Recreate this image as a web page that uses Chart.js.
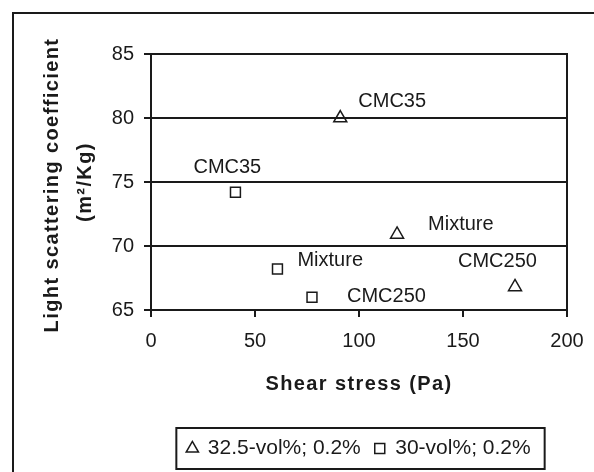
<!DOCTYPE html>
<html lang="en">
<head>
  <meta charset="UTF-8">
  <title>Light scattering coefficient vs shear stress</title>
  <script src="https://cdn.jsdelivr.net/npm/chart.js"></script>
  <style>
    html, body { margin: 0; padding: 0; background: #fff; }
    #wrap { width: 594px; height: 472px; }
  </style>
</head>
<body>
  <div id="wrap"><canvas id="chart" width="594" height="472"></canvas></div>

  <script>
    // data
    const seriesNames = ["32.5-vol%; 0.2%", "30-vol%; 0.2%"];
    const stress325 = [91, 118.3, 175];
    const scatter325 = [80, 70.9, 66.8];
    const labels325 = ["CMC35", "Mixture", "CMC250"];
    const stress30 = [40.6, 60.8, 77.4];
    const scatter30 = [74.2, 68.2, 66.0];
    const labels30 = ["CMC35", "Mixture", "CMC250"];
    const xTicks = [0, 50, 100, 150, 200];
    const yTicks = [65, 70, 75, 80, 85];
    const xTitle = "Shear stress (Pa)";
    const yTitle = ["Light scattering coefficient", "(m²/Kg)"];

    const ink = "#1a1a1a";
    const font = "'Liberation Sans', Arial, sans-serif";
    Chart.defaults.font.family = font;
    Chart.defaults.color = ink;

    function points(xs, ys) {
      return xs.map((x, i) => ({ x: x, y: ys[i] }));
    }

    // pixel offsets of the point labels (text left edge / baseline)
    const labelOffsets = [
      [[18, -11], [31, -4], [-57, -20]],
      [[-42, -19], [20, -3], [35, 5]]
    ];
    const pointLabels = [labels325, labels30];

    const decor = {
      id: "decor",
      beforeDraw(chart) {
        const ctx = chart.ctx;
        ctx.save();
        ctx.strokeStyle = ink;
        ctx.lineWidth = 2;
        ctx.beginPath();
        ctx.moveTo(13, 480);
        ctx.lineTo(13, 13);
        ctx.lineTo(600, 13);
        ctx.stroke();
        ctx.restore();
      },
      afterDraw(chart) {
        const ctx = chart.ctx;
        const a = chart.chartArea;
        ctx.save();
        ctx.strokeStyle = ink;
        ctx.lineWidth = 2;
        ctx.beginPath();
        ctx.moveTo(a.right, a.top - 1);
        ctx.lineTo(a.right, a.bottom + 1);
        ctx.stroke();

        // point labels
        ctx.fillStyle = ink;
        ctx.font = "20px " + font;
        ctx.textAlign = "left";
        ctx.textBaseline = "alphabetic";
        chart.data.datasets.forEach((ds, d) => {
          chart.getDatasetMeta(d).data.forEach((el, i) => {
            const off = labelOffsets[d][i];
            ctx.fillText(pointLabels[d][i], el.x + off[0], el.y + off[1]);
          });
        });

        // axis titles
        ctx.font = "bold 20px " + font;
        ctx.letterSpacing = "1.4px";
        ctx.textAlign = "center";
        ctx.fillText(xTitle, (a.left + a.right) / 2, 390);
        ctx.save();
        ctx.translate(58, 185);
        ctx.rotate(-Math.PI / 2);
        ctx.fillText(yTitle[0], 0, 0);
        ctx.restore();
        ctx.save();
        ctx.translate(91, 182);
        ctx.rotate(-Math.PI / 2);
        ctx.fillText(yTitle[1], 0, 0);
        ctx.restore();
        ctx.letterSpacing = "0px";

        // box round the legend
        const hb = chart.legend.legendHitBoxes;
        if (hb && hb.length) {
          const last = hb[hb.length - 1];
          const l = hb[0].left - 11;
          const r = last.left + last.width + 14;
          const t = hb[0].top - 10;
          const b = hb[0].top + hb[0].height + 10;
          ctx.lineWidth = 2;
          ctx.strokeRect(l, t, r - l, b - t);
        }
        ctx.restore();
      }
    };

    new Chart(document.getElementById("chart"), {
      type: "scatter",
      data: {
        datasets: [
          {
            label: seriesNames[0],
            data: points(stress325, scatter325),
            pointStyle: "triangle",
            pointRadius: 7.5,
            borderColor: ink,
            backgroundColor: "rgba(0,0,0,0)",
            borderWidth: 1.5
          },
          {
            label: seriesNames[1],
            data: points(stress30, scatter30),
            pointStyle: "rect",
            pointRadius: 7,
            borderColor: ink,
            backgroundColor: "rgba(0,0,0,0)",
            borderWidth: 1.5
          }
        ]
      },
      options: {
        responsive: false,
        animation: false,
        devicePixelRatio: 1,
        layout: { padding: { left: 0, right: 27, top: 54, bottom: 3 } },
        plugins: {
          tooltip: { enabled: false },
          legend: {
            position: "bottom",
            fullSize: false,
            labels: {
              usePointStyle: true,
              boxWidth: 10,
              boxHeight: 10,
              padding: 14,
              color: ink,
              font: { size: 21 }
            }
          }
        },
        scales: {
          x: {
            type: "linear",
            min: xTicks[0],
            max: xTicks[xTicks.length - 1],
            afterFit(s) { s.height = 114; s.paddingLeft = 0; s.paddingRight = 0; },
            ticks: { stepSize: xTicks[1] - xTicks[0], padding: 12, font: { size: 20 }, color: ink },
            grid: { drawOnChartArea: false, drawTicks: true, tickLength: 7, color: ink, lineWidth: 2 },
            border: { display: true, color: ink, width: 2 }
          },
          y: {
            type: "linear",
            min: yTicks[0],
            max: yTicks[yTicks.length - 1],
            afterFit(s) { s.width = 151; s.paddingTop = 0; s.paddingBottom = 0; },
            ticks: { stepSize: yTicks[1] - yTicks[0], padding: 10, font: { size: 20 }, color: ink },
            grid: { drawTicks: true, tickLength: 7, color: ink, lineWidth: 2 },
            border: { display: true, color: ink, width: 2 }
          }
        }
      },
      plugins: [decor]
    });
  </script>
</body>
</html>
